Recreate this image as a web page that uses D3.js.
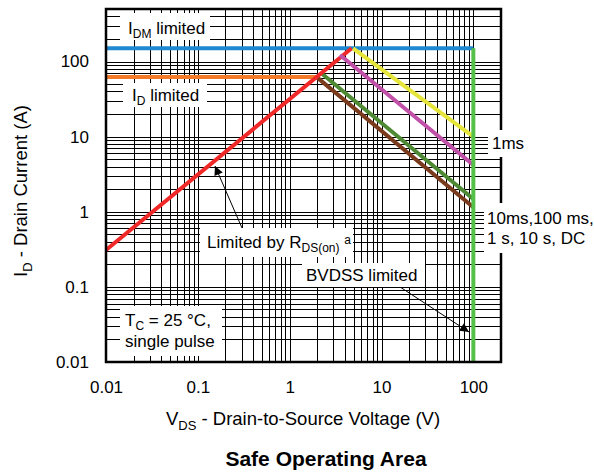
<!DOCTYPE html>
<html>
<head>
<meta charset="utf-8">
<script src="https://cdn.jsdelivr.net/npm/d3@7"></script>
<style>
  body { margin: 0; background: #fff; }
  text { font-family: "Liberation Sans", Arial, sans-serif; fill: #000; }
</style>
</head>
<body>
<div class="canvas"></div>
<script>
// tick labels
const xTicks = [0.01, 0.1, 1, 10, 100];
const xTickLabels = ['0.01', '0.1', '1', '10', '100'];
const yTicks = [0.01, 0.1, 1, 10, 100];
const yTickLabels = ['0.01', '0.1', '1', '10', '100'];

// limit lines, [VDS, ID] pairs
const idmLine = [[0.01, 150], [100, 150]];
const idLine = [[0.01, 62], [1.97, 62]];
const bvdssLine = [[100, 150], [100, 0.01]];
const lineDC = [[1.97, 62], [100, 1.15]];
const line100ms = [[2.18, 71], [100, 1.48]];
const rdsLine = [[0.01, 0.31], [4.73, 150]];
const line10ms = [[3.53, 122], [100, 4.2]];
const line1ms = [[4.9, 150], [100, 10]];

const width = 594, height = 472;
const plotL = 106, plotR = 501, plotT = 9, plotB = 362;

const svg = d3.select('.canvas').append('svg')
  .attr('width', width).attr('height', height);

const x = d3.scaleLog().domain([0.01, 200]).range([plotL, plotR]);
const y = d3.scaleLog().domain([0.01, 500]).range([plotB, plotT]);

// grid
svg.append('g')
  .attr('transform', `translate(0,${plotB})`)
  .call(d3.axisBottom(x).tickValues(x.ticks()).tickSize(-(plotB - plotT)).tickFormat(''))
  .call(g => g.select('.domain').remove())
  .call(g => g.selectAll('line').attr('stroke', '#000').attr('stroke-width', 1)
    .attr('shape-rendering', 'crispEdges'));

svg.append('g')
  .attr('transform', `translate(${plotL},0)`)
  .call(d3.axisLeft(y).tickValues(y.ticks()).tickSize(-(plotR - plotL)).tickFormat(''))
  .call(g => g.select('.domain').remove())
  .call(g => g.selectAll('line').attr('stroke', '#000').attr('stroke-width', 1)
    .attr('shape-rendering', 'crispEdges'));

// tick labels
svg.append('g')
  .attr('transform', `translate(0,${plotB})`)
  .call(d3.axisBottom(x).tickValues(xTicks).tickSize(0).tickPadding(19)
    .tickFormat((d, i) => xTickLabels[i]))
  .call(g => g.select('.domain').remove())
  .call(g => g.selectAll('text').style('font-family', '"Liberation Sans", Arial, sans-serif')
    .style('font-size', '17px'));

svg.append('g')
  .attr('transform', `translate(${plotL},0)`)
  .call(d3.axisLeft(y).tickValues(yTicks).tickSize(0).tickPadding(17)
    .tickFormat((d, i) => yTickLabels[i]))
  .call(g => g.select('.domain').remove())
  .call(g => g.selectAll('text').style('font-family', '"Liberation Sans", Arial, sans-serif')
    .style('font-size', '17px'));

// curves
const line = d3.line().x(d => x(d[0])).y(d => y(d[1]));
const curves = [
  { data: idmLine, color: '#1e88d0' },
  { data: idLine, color: '#f47a2a' },
  { data: lineDC, color: '#7a3a1c' },
  { data: line100ms, color: '#4e8a34' },
  { data: rdsLine, color: '#f02828' },
  { data: line10ms, color: '#c050a8' },
  { data: line1ms, color: '#e6e63a' },
  { data: bvdssLine, color: '#55c04a' }
];

svg.append('g').selectAll('path')
  .data(curves)
  .join('path')
  .attr('d', d => line(d.data))
  .attr('fill', 'none')
  .attr('stroke', d => d.color)
  .attr('stroke-width', 4);

// plot border
svg.append('rect')
  .attr('x', plotL).attr('y', plotT)
  .attr('width', plotR - plotL).attr('height', plotB - plotT)
  .attr('fill', 'none').attr('stroke', '#000').attr('stroke-width', 2.5);

// arrowhead
svg.append('defs').append('marker')
  .attr('id', 'arrow')
  .attr('viewBox', '0 0 10 10')
  .attr('refX', 10).attr('refY', 5)
  .attr('markerWidth', 13).attr('markerHeight', 9)
  .attr('markerUnits', 'userSpaceOnUse')
  .attr('orient', 'auto')
  .append('path').attr('d', 'M0,0L10,5L0,10Z').attr('fill', '#000');

svg.append('line')
  .attr('x1', 242).attr('y1', 228).attr('x2', 215).attr('y2', 166)
  .attr('stroke', '#000').attr('stroke-width', 1).attr('marker-end', 'url(#arrow)');

svg.append('line')
  .attr('x1', 397).attr('y1', 285).attr('x2', 469).attr('y2', 332)
  .attr('stroke', '#000').attr('stroke-width', 1).attr('marker-end', 'url(#arrow)');

// label boxes
function box(x0, y0, w, h) {
  svg.append('rect').attr('x', x0).attr('y', y0).attr('width', w).attr('height', h)
    .attr('fill', '#fff');
}

function label(x0, y0, parts) {
  const t = svg.append('text').attr('x', x0).attr('y', y0).style('font-size', '17px');
  parts.forEach(p => {
    const s = t.append('tspan').text(p.t);
    if (p.sub) s.style('font-size', '12px').attr('dy', 4);
    if (p.sup) s.style('font-size', '12px').attr('dy', -4);
    if (p.back) s.attr('dy', p.back);
  });
  return t;
}

box(120, 13, 90, 27);
label(128, 34, [{ t: 'I' }, { t: 'DM', sub: true }, { t: ' limited', back: -4 }]);

box(123, 83, 84, 24);
label(132, 101, [{ t: 'I' }, { t: 'D', sub: true }, { t: ' limited', back: -4 }]);

box(200, 228, 153, 29);
label(207, 248, [{ t: 'Limited by R' }, { t: 'DS(on)', sub: true }, { t: ' ', back: -4 },
  { t: 'a', sup: true }]);

box(302, 263, 123, 24);
label(306, 281, [{ t: 'BVDSS limited' }]);

box(120, 306, 102, 50);
label(125, 326, [{ t: 'T' }, { t: 'C', sub: true }, { t: ' = 25 °C,', back: -4 }]);
label(125, 347, [{ t: 'single pulse' }]);

box(488, 130, 42, 27);
label(492, 149, [{ t: '1ms' }]);

box(484, 203, 110, 50);
label(487, 224, [{ t: '10ms,100 ms,' }]);
label(487, 244, [{ t: '1 s, 10 s, DC' }]);

// axis titles
const xt = svg.append('text').attr('x', 303).attr('y', 425)
  .attr('text-anchor', 'middle').style('font-size', '18.5px');
xt.append('tspan').text('V');
xt.append('tspan').text('DS').style('font-size', '13px').attr('dy', 5);
xt.append('tspan').text(' - Drain-to-Source Voltage (V)').attr('dy', -5);

const yt = svg.append('text')
  .attr('transform', 'translate(27,191) rotate(-90)')
  .attr('text-anchor', 'middle').style('font-size', '18.5px');
yt.append('tspan').text('I');
yt.append('tspan').text('D').style('font-size', '13px').attr('dy', 5);
yt.append('tspan').text(' - Drain Current (A)').attr('dy', -5);

// title
svg.append('text').attr('x', 326).attr('y', 466)
  .attr('text-anchor', 'middle')
  .style('font-size', '21px').style('font-weight', 'bold')
  .text('Safe Operating Area');
</script>
</body>
</html>
